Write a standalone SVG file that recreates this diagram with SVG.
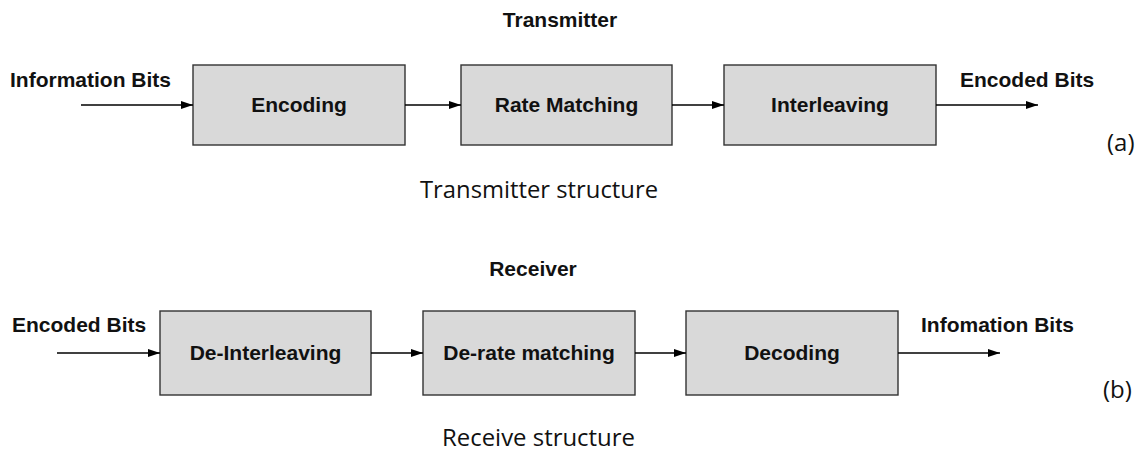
<svg xmlns="http://www.w3.org/2000/svg" width="1145" height="452" viewBox="0 0 1145 452">
<defs>
<marker id="arr" viewBox="0 0 12 8" refX="12" refY="4" markerWidth="12" markerHeight="8" markerUnits="userSpaceOnUse" orient="auto">
<path d="M0,0 L12,4 L0,8 Z" fill="#000"/>
</marker>
<style>
.box{fill:#d9d9d9;stroke:#333;stroke-width:1.4}
.b{font-family:"Liberation Sans",Arial,sans-serif;font-weight:bold;font-size:21px;fill:#111}
.n{font-family:"Open Sans","Liberation Sans",sans-serif;font-size:24px;fill:#111}
.c{stroke:#000;stroke-width:1.3;fill:none;marker-end:url(#arr)}
</style>
</defs>
<rect width="1145" height="452" fill="#fff"/>
<text class="b" x="560" y="27" text-anchor="middle">Transmitter</text>
<text class="b" x="10" y="87">Information Bits</text>
<text class="b" x="960" y="87">Encoded Bits</text>
<text class="n" x="1107" y="151">(a)</text>
<text class="n" x="420" y="198" textLength="238" lengthAdjust="spacingAndGlyphs">Transmitter structure</text>
<g id="encoding"><rect class="box" x="193" y="65" width="212" height="80"/><text class="b" x="299" y="112" text-anchor="middle">Encoding</text></g>
<g id="rate-matching"><rect class="box" x="461" y="65" width="211" height="80"/><text class="b" x="566.5" y="112" text-anchor="middle">Rate Matching</text></g>
<g id="interleaving"><rect class="box" x="724" y="65" width="212" height="80"/><text class="b" x="830" y="112" text-anchor="middle">Interleaving</text></g>
<text class="b" x="533" y="276" text-anchor="middle">Receiver</text>
<text class="b" x="12" y="332">Encoded Bits</text>
<text class="b" x="921" y="332">Infomation Bits</text>
<text class="n" x="1103" y="398">(b)</text>
<text class="n" x="442" y="446" textLength="193" lengthAdjust="spacingAndGlyphs">Receive structure</text>
<g id="de-interleaving"><rect class="box" x="160" y="311" width="211" height="84"/><text class="b" x="265.5" y="360" text-anchor="middle">De-Interleaving</text></g>
<g id="de-rate-matching"><rect class="box" x="423" y="311" width="212" height="84"/><text class="b" x="529" y="360" text-anchor="middle">De-rate matching</text></g>
<g id="decoding"><rect class="box" x="686" y="311" width="212" height="84"/><text class="b" x="792" y="360" text-anchor="middle">Decoding</text></g>
<g id="connectors">
<line class="c" x1="81" y1="105" x2="193" y2="105"/>
<line class="c" x1="405" y1="105" x2="461" y2="105"/>
<line class="c" x1="672" y1="105" x2="724" y2="105"/>
<line class="c" x1="936" y1="105" x2="1038" y2="105"/>
<line class="c" x1="57" y1="353" x2="160" y2="353"/>
<line class="c" x1="371" y1="353" x2="423" y2="353"/>
<line class="c" x1="635" y1="353" x2="686" y2="353"/>
<line class="c" x1="898" y1="353" x2="1000" y2="353"/>
</g>
</svg>
